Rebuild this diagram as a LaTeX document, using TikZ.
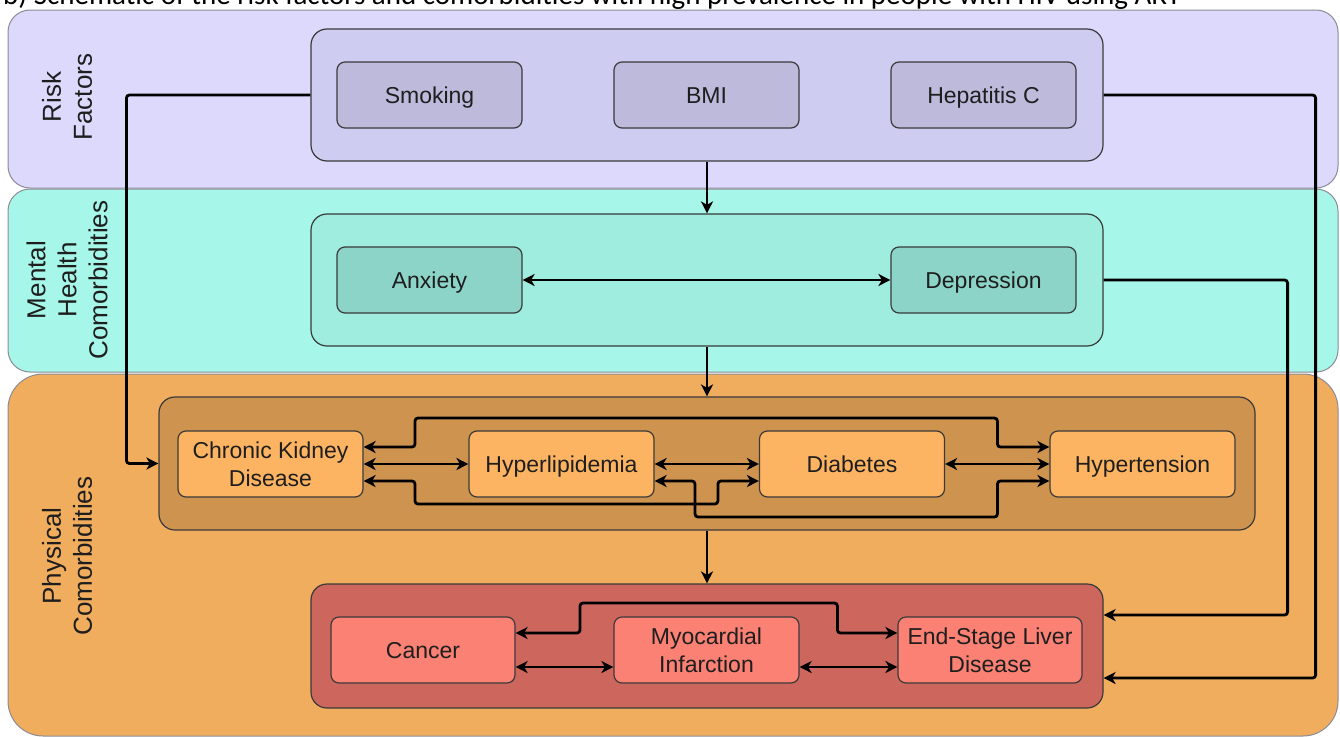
\documentclass[tikz,border=0pt]{standalone}
\usepackage{fontspec}
\setmainfont{Liberation Sans}
\newfontfamily\capfont{Carlito}
\usetikzlibrary{arrows.meta}
\definecolor{bandline}{HTML}{8C8C96}
\definecolor{boxline}{HTML}{3A3A3A}
\definecolor{txt}{HTML}{1E1E1E}
\definecolor{riskband}{HTML}{DCD9FC}
\definecolor{riskcont}{HTML}{CFCCF1}
\definecolor{riskcell}{HTML}{BDBADB}
\definecolor{mentband}{HTML}{A6F7E9}
\definecolor{mentcont}{HTML}{9FEDDF}
\definecolor{mentcell}{HTML}{8DD4C8}
\definecolor{physband}{HTML}{F0AD5E}
\definecolor{physcont}{HTML}{CE934F}
\definecolor{physcell}{HTML}{FDB462}
\definecolor{redcont}{HTML}{CD675E}
\definecolor{redcell}{HTML}{FA8174}
\begin{document}
\begin{tikzpicture}[x=1pt,y=-1pt,
  band/.style={draw=bandline, line width=1pt, rounded corners=22pt},
  cont/.style={draw=boxline, line width=1.2pt, rounded corners=16pt, minimum width=792pt, minimum height=132pt, inner sep=0pt},
  cell/.style={draw=boxline, line width=1.2pt, rounded corners=8pt, minimum width=185pt, minimum height=66pt, inner sep=0pt, align=center, text=txt, font=\fontsize{23}{28}\selectfont},
  one/.style={text height=16.5pt, text depth=0pt},
  lbl/.style={rotate=90, align=center, text=txt, font=\fontsize{26}{31}\selectfont},
  conn/.style={line width=2.8pt, rounded corners=3pt},
  arr/.style={conn, -{Stealth[length=12pt,width=12pt,inset=3.5pt]}},
  dbl/.style={conn, {Stealth[length=12pt,width=12pt,inset=3.5pt]}-{Stealth[length=12pt,width=12pt,inset=3.5pt]}}
]
\useasboundingbox (0,0) rectangle (1340,736);
\fill[white] (0,0) rectangle (1340,736);
% caption (cut off at the top, as in the source)
\node[anchor=base west, inner sep=0pt, font=\capfont\fontsize{29}{34}\selectfont] (cap) at (3,5) {b) Schematic of the risk factors and comorbidities with high prevalence in people with HIV using ART};
% bands
\draw[band, fill=riskband] (8,10) rectangle (1338,188);
\draw[band, fill=mentband] (8,189) rectangle (1338,372);
\draw[band, fill=physband, rounded corners=35pt] (8,374) rectangle (1338,736);
% band labels
\node[lbl] (lrisk) at (67,97) {Risk\\Factors};
\node[lbl] (lment) at (67,280) {Mental\\Health\\Comorbidities};
\node[lbl] (lphys) at (67,556) {Physical\\Comorbidities};
% containers
\node[cont, fill=riskcont] (rc) at (707,95) {};
\node[cont, fill=mentcont] (mc) at (707,280) {};
\node[cont, fill=physcont, minimum width=1096pt, minimum height=133pt] (c1) at (707,463.5) {};
\node[cont, fill=redcont, minimum height=124pt] (c2) at (707,646) {};
% long connectors
\draw[arr] (rc.west) -| ([xshift=-32pt]c1.west) -- (c1.west);
\draw[arr] (rc.east) -| ([xshift=212pt,yshift=-32pt]c2.east) -- ([yshift=-32pt]c2.east);
\draw[arr] (mc.east) -| ([xshift=184pt,yshift=31pt]c2.east) -- ([yshift=31pt]c2.east);
\draw[arr] (rc.south) -- (mc.north);
\draw[arr] (mc.south) -- (c1.north);
\draw[arr] (c1.south) -- (c2.north);
% cells
\node[cell, one, fill=riskcell] (smk) at (429.5,95) {Smoking};
\node[cell, one, fill=riskcell] (bmi) at (706.5,95) {BMI};
\node[cell, one, fill=riskcell] (hcv) at (983.5,95) {Hepatitis C};
\node[cell, one, fill=mentcell] (anx) at (429.5,280) {Anxiety};
\node[cell, one, fill=mentcell] (dep) at (983.5,280) {Depression};
\node[cell, fill=physcell] (ckd) at (270.5,464) {Chronic Kidney\\Disease};
\node[cell, one, fill=physcell] (hyp) at (561.5,464) {Hyperlipidemia};
\node[cell, one, fill=physcell] (dia) at (852,464) {Diabetes};
\node[cell, one, fill=physcell] (hyt) at (1142.5,464) {Hypertension};
\node[cell, one, fill=redcell, minimum width=184pt] (can) at (423,650) {Cancer};
\node[cell, fill=redcell] (mi) at (706.5,650) {Myocardial\\Infarction};
\node[cell, fill=redcell, minimum width=184pt] (esl) at (990,650) {End-Stage Liver\\Disease};
% cell connectors
\draw[dbl] (anx.east) -- (dep.west);
\draw[dbl] (ckd.east) -- (hyp.west);
\draw[dbl] (hyp.east) -- (dia.west);
\draw[dbl] (dia.east) -- (hyt.west);
\draw[dbl] ([yshift=17pt]ckd.east) -| (415,418) -| ([xshift=-52pt,yshift=17pt]hyt.west) -- ([yshift=17pt]hyt.west);
\draw[dbl] ([yshift=-17pt]ckd.east) -| (415,504) -| ([xshift=-41pt,yshift=-17pt]dia.west) -- ([yshift=-17pt]dia.west);
\draw[dbl] ([yshift=-17pt]hyp.east) -| (695,517) -| ([xshift=-52pt,yshift=-17pt]hyt.west) -- ([yshift=-17pt]hyt.west);
\draw[dbl] ([yshift=-17pt]can.east) -- ([yshift=-17pt]mi.west);
\draw[dbl] ([yshift=17pt]can.east) -| (580,603) -| ([xshift=-60pt,yshift=17pt]esl.west) -- ([yshift=17pt]esl.west);
\draw[dbl] ([yshift=-17pt]mi.east) -- ([yshift=-17pt]esl.west);
\end{tikzpicture}
\end{document}
